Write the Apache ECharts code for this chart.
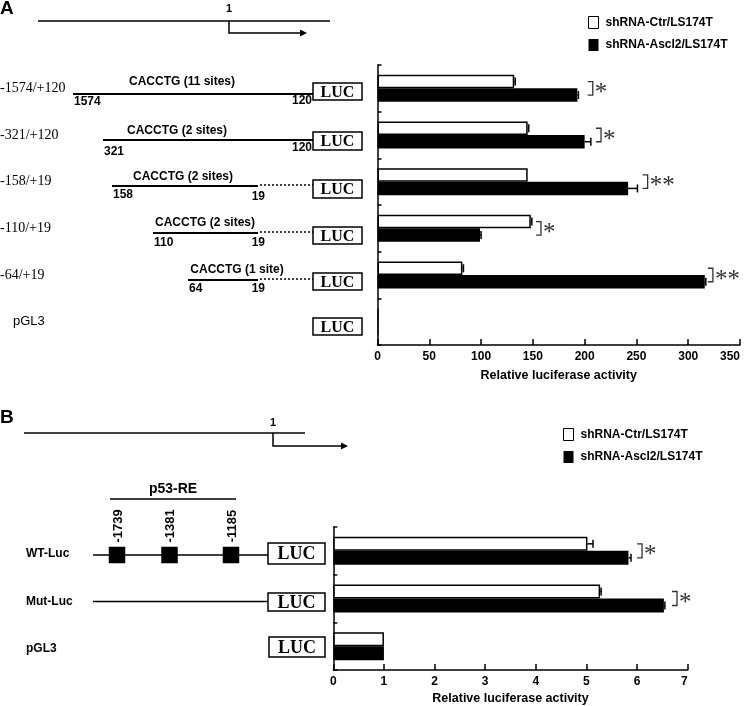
<!DOCTYPE html>
<html><head><meta charset="utf-8">
<script src="https://cdn.jsdelivr.net/npm/echarts@6/dist/echarts.min.js"></script>
<style>html,body{margin:0;padding:0;background:#fff}#c{width:745px;height:706px}</style>
</head><body><div id="c"></div>
<script>
// ---------- DATA ----------
const seriesNames = ['shRNA-Ctr/LS174T', 'shRNA-Ascl2/LS174T'];
// Panel A
const catsA = ['-1574/+120', '-321/+120', '-158/+19', '-110/+19', '-64/+19', 'pGL3'];
const ctrA = [132, 145, 145, 148, 82, 1];
const ascA = [193, 200, 242, 99, 316, 1];
const ctrAErr = [1, 1, 0, 1, 1, 0];
const ascAErr = [1, 6, 9, 1, 1, 0];
const sigA = ['*', '*', '**', '*', '**', ''];
const sigPosA = [203, 211, 256, 153, 319, 0];
const ticksA = {min: 0, max: 350, interval: 50};
// Panel B
const catsB = ['WT-Luc', 'Mut-Luc', 'pGL3'];
const ctrB = [5.02, 5.27, 1.0];
const ascB = [5.83, 6.53, 1.0];
const ctrBErr = [0.11, 0.02, 0];
const ascBErr = [0.05, 0.02, 0];
const sigB = ['*', '*', ''];
const sigPosB = [6.0, 6.69, 0];
const ticksB = {min: 0, max: 7, interval: 1};
const axisName = 'Relative luciferase activity';

// ---------- STYLE ----------
const SANS = '"Liberation Sans", Arial, sans-serif';
const SERIF = '"Liberation Serif", "Times New Roman", serif';
const BW_A = 13.5, BW_B = 14;

const chart = echarts.init(document.getElementById('c'), null, {renderer: 'canvas'});

function barSeries(idx, name, data, white, bw) {
  return {
    type: 'bar', name: name, xAxisIndex: idx, yAxisIndex: idx, data: data,
    barWidth: bw, barGap: '0%', z: 3,
    itemStyle: white ? {color: '#fff', borderColor: '#000', borderWidth: 1.5}
                     : {color: '#000', borderColor: '#000', borderWidth: 0},
    emphasis: {disabled: true}, silent: true
  };
}
function errorSeries(idx, vals, errs, side, bw) {
  return {
    type: 'custom', xAxisIndex: idx, yAxisIndex: idx, silent: true, z: 5,
    encode: {x: 0, y: 1},
    data: vals.map((v, i) => [v, i, errs[i]]),
    renderItem(params, api) {
      const v = api.value(0), c = api.value(1), e = api.value(2);
      if (!e) return null;
      const p0 = api.coord([v, c]), p1 = api.coord([v + e, c]);
      const y = p0[1] + side * bw / 2;
      return {type: 'group', children: [
        {type: 'line', shape: {x1: p0[0], y1: y, x2: p1[0], y2: y}, style: {stroke: '#000', lineWidth: 1.5}},
        {type: 'line', shape: {x1: p1[0], y1: y - 4, x2: p1[0], y2: y + 4}, style: {stroke: '#000', lineWidth: 1.5}}
      ]};
    }
  };
}
function sigSeries(idx, pos, sig, bw) {
  return {
    type: 'custom', xAxisIndex: idx, yAxisIndex: idx, silent: true, z: 5,
    encode: {x: 0, y: 1},
    data: pos.map((p, i) => [p, i]),
    renderItem(params, api) {
      const s = sig[params.dataIndex];
      if (!s) return null;
      const p = api.coord([api.value(0), api.value(1)]);
      const x = p[0], y = p[1], h = bw / 2;
      return {type: 'group', children: [
        {type: 'polyline', shape: {points: [[x, y - h], [x + 5, y - h], [x + 5, y + h], [x, y + h]]},
         style: {stroke: '#333', lineWidth: 1.3, fill: null}},
        {type: 'text', x: x + 7, y: y + 5,
         style: {text: s, font: '25px ' + SERIF, fill: '#333', align: 'left', verticalAlign: 'middle',
                 textAlign: 'left', textVerticalAlign: 'middle'}}
      ]};
    }
  };
}
function xAxis(idx, t, nameGap) {
  return {
    type: 'value', gridIndex: idx, min: t.min, max: t.max, interval: t.interval,
    axisLine: {show: true, lineStyle: {color: '#000', width: 1.5}},
    axisTick: {show: true, inside: true, length: 6, lineStyle: {color: '#000', width: 1.5}},
    splitLine: {show: false},
    axisLabel: {color: '#000', fontFamily: SANS, fontWeight: 'bold', fontSize: 12, margin: 6, alignMaxLabel: 'right'},
    name: axisName, nameLocation: 'middle', nameGap: nameGap,
    nameTextStyle: {color: '#000', fontFamily: SANS, fontWeight: 'bold', fontSize: 12.5}
  };
}
function yAxis(idx, cats, margin, fmt, rich) {
  return {
    type: 'category', gridIndex: idx, data: cats, inverse: true,
    axisLine: {show: true, lineStyle: {color: '#000', width: 1.5}},
    axisTick: {show: true, inside: true, length: 4, lineStyle: {color: '#000', width: 1.5}},
    axisLabel: {margin: margin, align: 'left', color: '#000', formatter: fmt, rich: rich}
  };
}

// ---------- SCHEMATIC (graphic) ----------
const g = [];
function L(x1, y1, x2, y2, w, dash) {
  g.push({type: 'line', shape: {x1, y1, x2, y2}, style: {stroke: '#000', lineWidth: w || 1.5, lineDash: dash || null}, silent: true});
}
function R(x, y, w, h, fill, lw) {
  g.push({type: 'rect', shape: {x, y, width: w, height: h}, style: {fill: fill, stroke: '#000', lineWidth: lw || 1.5}, silent: true});
}
function T(s, x, y, font, align, rot) {
  g.push({type: 'text', x: x, y: y, rotation: rot || 0, silent: true,
    style: {text: s, font: font, fill: '#000', align: align || 'left', verticalAlign: 'middle',
            textAlign: align || 'left', textVerticalAlign: 'middle'}});
}
function arrow(x, y1, y2, x2) {
  g.push({type: 'polyline', shape: {points: [[x, y1], [x, y2], [x2 - 5, y2]]}, style: {stroke: '#000', lineWidth: 1.5, fill: null}, silent: true});
  g.push({type: 'polygon', shape: {points: [[x2 - 7, y2 - 3.5], [x2, y2], [x2 - 7, y2 + 3.5]]}, style: {fill: '#000'}, silent: true});
}
function LUC(x, y, w, h, fs) {
  R(x, y, w, h, '#fff', 1.5);
  T('LUC', x + w / 2, y + h / 2 + 1, 'bold ' + fs + 'px ' + SERIF, 'center');
}
const B12 = 'bold 12px ' + SANS;
// Panel A
T('A', 0, 9, 'bold 19px ' + SANS, 'left');
L(38, 21, 330, 21);
T('1', 229, 9, 'bold 11px ' + SANS, 'center');
arrow(229, 21, 33, 307);
const consA = [
  {y: 94, x0: 73, x1: 313, site: 'CACCTG (11 sites)', sx: 182, sy: 82, l: '1574', r: '120', ly: 102, rx: 312, ry: 101, by: 83, bh: 17},
  {y: 140, x0: 103, x1: 313, site: 'CACCTG (2 sites)', sx: 177, sy: 131, l: '321', r: '120', ly: 152, rx: 312, ry: 148, by: 132, bh: 18},
  {y: 186, x0: 112, x1: 258, site: 'CACCTG (2 sites)', sx: 183, sy: 177, l: '158', r: '19', ly: 195, rx: 265, ry: 197, by: 180, bh: 18},
  {y: 233, x0: 153, x1: 258, site: 'CACCTG (2 sites)', sx: 205, sy: 223, l: '110', r: '19', ly: 243, rx: 265, ry: 243, by: 227, bh: 17},
  {y: 280, x0: 188, x1: 258, site: 'CACCTG (1 site)', sx: 237, sy: 270, l: '64', r: '19', ly: 289, rx: 265, ry: 289, by: 273, bh: 17}
];
consA.forEach(c => {
  L(c.x0, c.y, c.x1, c.y, 2);
  if (c.x1 < 313) L(c.x1 + 2, c.y - 1, 313, c.y - 1, 1.5, [2, 2]);
  T(c.site, c.sx, c.sy, B12, 'center');
  T(c.l, c.x0 + 1, c.ly, B12, 'left');
  T(c.r, c.rx, c.ry, B12, 'right');
  LUC(313, c.by, 49, c.bh, 16);
});
LUC(313, 318, 49, 17, 16);
// Panel B
T('B', 0, 418, 'bold 19px ' + SANS, 'left');
L(24, 433, 305, 433);
T('1', 273, 423, 'bold 11px ' + SANS, 'center');
arrow(273, 433, 446, 348);
T('p53-RE', 173, 489, 'bold 14px ' + SANS, 'center');
L(110, 499, 236, 499);
[['-1739', 117], ['-1381', 169], ['-1185', 231]].forEach(p => {
  T(p[0], p[1] + 1, 526, 'bold 13px ' + SANS, 'center', Math.PI / 2);
});
L(93, 555, 268, 555);
[117, 169.5, 231].forEach(x => R(x - 7.5, 547.5, 15, 15, '#000', 0));
LUC(268, 543, 57, 21, 18);
L(93, 601.5, 268, 601.5);
LUC(268, 593, 57, 18, 18);
LUC(269, 637, 56, 20, 18);

const legendItems = [
  {name: seriesNames[0], itemStyle: {color: '#fff', borderColor: '#000', borderWidth: 1}},
  {name: seriesNames[1], itemStyle: {color: '#000', borderColor: '#000', borderWidth: 0}}
];
const legendBase = {orient: 'vertical', itemWidth: 10, itemHeight: 12, itemGap: 10, padding: 0,
  icon: 'rect', selectedMode: false,
  textStyle: {color: '#000', fontFamily: SANS, fontWeight: 'bold', fontSize: 12, padding: [0, 0, 0, 2]}};

const option = {
  animation: false,
  backgroundColor: '#fff',
  legend: [
    Object.assign({left: 588, top: 16, data: legendItems}, legendBase),
    Object.assign({left: 563, top: 428, data: legendItems}, legendBase)
  ],
  grid: [
    {left: 377.5, right: 5, top: 65, bottom: 361, containLabel: false, outerBoundsMode: 'none'},
    {left: 333.3, right: 57.3, top: 527, bottom: 36, containLabel: false, outerBoundsMode: 'none'}
  ],
  xAxis: [xAxis(0, ticksA, 24), xAxis(1, ticksB, 22)],
  yAxis: [
    yAxis(0, catsA, 377.5, (v, i) => (i === 5 ? '{p|' + v + '}' : '{t|' + v + '}'),
      {t: {fontFamily: SERIF, fontSize: 14, color: '#000'},
       p: {fontFamily: SANS, fontSize: 13, color: '#000', padding: [0, 0, 0, 13]}}),
    yAxis(1, catsB, 333.3 - 26, v => '{t|' + v + '}',
      {t: {fontFamily: SANS, fontSize: 12, fontWeight: 'bold', color: '#000', padding: [6, 0, 0, 0]}})
  ],
  series: [
    barSeries(0, seriesNames[0], ctrA, true, BW_A),
    barSeries(0, seriesNames[1], ascA, false, BW_A),
    errorSeries(0, ctrA, ctrAErr, -1, BW_A),
    errorSeries(0, ascA, ascAErr, 1, BW_A),
    sigSeries(0, sigPosA, sigA, BW_A),
    barSeries(1, seriesNames[0], ctrB, true, BW_B),
    barSeries(1, seriesNames[1], ascB, false, BW_B),
    errorSeries(1, ctrB, ctrBErr, -1, BW_B),
    errorSeries(1, ascB, ascBErr, 1, BW_B),
    sigSeries(1, sigPosB, sigB, BW_B)
  ],
  graphic: g
};
chart.setOption(option);
</script>
</body></html>
